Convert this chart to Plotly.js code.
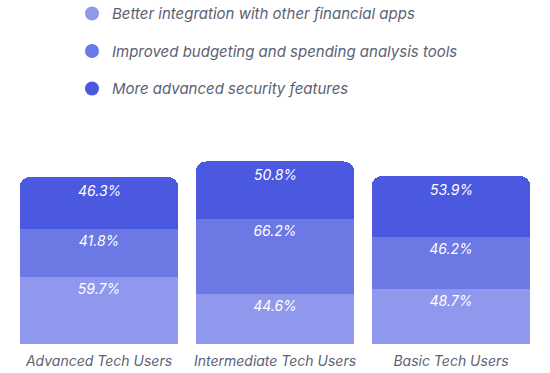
<!DOCTYPE html>
<html>
<head>
<meta charset="utf-8">
<script src="https://cdn.plot.ly/plotly-3.0.1.min.js"></script>
<style>html,body{margin:0;padding:0;background:#fff;}#chart{width:550px;height:373px;}</style>
</head>
<body>
<div id="chart"></div>
<script>
var categories = ["Advanced Tech Users", "Intermediate Tech Users", "Basic Tech Users"];
var seriesNames = ["Better integration with other financial apps", "Improved budgeting and spending analysis tools", "More advanced security features"];
var integration = [59.7, 44.6, 48.7];
var budgeting = [41.8, 66.2, 46.2];
var security = [46.3, 50.8, 53.9];
var colors = ["#8f98ec", "#6c78e4", "#4b58e0"];

var FONT = "Inter, 'Open Sans', sans-serif";
var labelFont = { family: FONT, size: 14, color: "#ffffff", style: "italic" };
var values = [integration, budgeting, security];
function fmt(d) { return d.toFixed(1) + "%"; }

var traces = [];
values.forEach(function (v, i) {
  var isTop = i === values.length - 1;
  traces.push({
    type: "bar",
    x: categories,
    y: v,
    name: seriesNames[i],
    marker: { color: colors[i] },
    text: isTop ? null : v.map(fmt),
    textposition: isTop ? "none" : "inside",
    insidetextanchor: "end",
    textangle: 0,
    constraintext: "none",
    textfont: labelFont,
    showlegend: false,
    hoverinfo: "skip"
  });
});
values.forEach(function (v, i) {
  traces.push({
    type: "scatter",
    mode: "markers",
    x: [null],
    y: [null],
    name: seriesNames[i],
    legendgroup: "g" + i,
    marker: { color: colors[i], size: 14, symbol: "circle" },
    showlegend: true,
    hoverinfo: "skip"
  });
});

// labels for the top (rounded) segment, placed at the stack total
var annotations = categories.map(function (c, k) {
  var total = integration[k] + budgeting[k] + security[k];
  return {
    x: c, y: total, xref: "x", yref: "y",
    yanchor: "top", yshift: -3,
    text: fmt(security[k]),
    showarrow: false,
    font: labelFont
  };
});

var layout = {
  width: 550,
  height: 373,
  margin: { l: 11, r: 11, t: 140, b: 29, autoexpand: false },
  paper_bgcolor: "#ffffff",
  plot_bgcolor: "#ffffff",
  barmode: "stack",
  bargap: 0.1,
  barcornerradius: 10,
  hovermode: false,
  font: { family: FONT, color: "#5c6272" },
  annotations: annotations,
  xaxis: {
    showgrid: false, zeroline: false, showline: false,
    ticks: "outside", ticklen: 4, tickcolor: "rgba(0,0,0,0)",
    tickfont: { family: FONT, size: 14, color: "#5c6272", style: "italic" }
  },
  yaxis: {
    range: [0, 180.6], visible: false, showgrid: false, zeroline: false
  },
  legend: {
    orientation: "v",
    x: 0.1155, xanchor: "left",
    yref: "paper", y: 1.70, yanchor: "top",
    traceorder: "grouped",
    tracegroupgap: 15,
    font: { family: FONT, size: 15, color: "#5c6272", style: "italic" },
    bgcolor: "rgba(0,0,0,0)"
  }
};

Plotly.newPlot("chart", traces, layout, { displayModeBar: false, staticPlot: true });
</script>
</body>
</html>
